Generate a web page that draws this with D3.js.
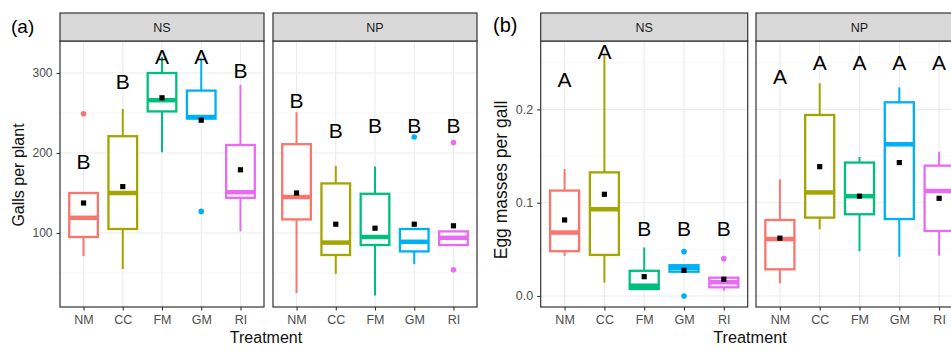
<!DOCTYPE html>
<html>
<head>
<meta charset="utf-8">
<script src="https://cdn.jsdelivr.net/npm/d3@7/dist/d3.min.js"></script>
<style>
  html, body { margin: 0; padding: 0; background: #fff; }
  svg { display: block; font-family: "Liberation Sans", Arial, sans-serif; }
</style>
</head>
<body>
<svg id="chart" width="951" height="350"></svg>
<script>
// ---------------- DATA ----------------
const treatments = ["NM", "CC", "FM", "GM", "RI"];
const facets = ["NS", "NP"];
const treatmentColors = ["#F8766D", "#A3A500", "#00BF7D", "#00B0F6", "#E76BF3"];

// Panel (a): Galls per plant. Box stats per treatment: [lower whisker, Q1, median, Q3, upper whisker]
const gallsNSBox = [[71, 95, 119, 150, 150], [55, 105, 150, 221, 255], [201, 252, 266, 300, 320], [243, 243, 245, 278, 318], [102, 144, 151, 210, 285]];
const gallsNSMean = [137.5, 158, 269, 241, 179];
const gallsNSOutliers = [[249], [], [], [127], []];
const gallsNSLetters = ["B", "B", "A", "A", "B"];
const gallsNSLetterY = [190, 289, 321, 321, 303];

const gallsNPBox = [[25, 117, 145, 211, 251], [49, 72.5, 88, 162, 184], [22, 85, 95, 149, 183], [61, 77, 89, 105, 105], [85, 85, 94, 102, 102]];
const gallsNPMean = [150, 111, 106, 111, 109];
const gallsNPOutliers = [[], [], [], [220], [213, 54]];
const gallsNPLetters = ["B", "B", "B", "B", "B"];
const gallsNPLetterY = [266, 228, 235, 235, 235];

const gallsTicks = [100, 200, 300];
const gallsMinor = [50, 150, 250];

// Panel (b): Egg masses per gall
const eggNSBox = [[0.043, 0.048, 0.068, 0.113, 0.136], [0.0143, 0.044, 0.093, 0.1325, 0.258], [0.0065, 0.0075, 0.011, 0.027, 0.052], [0.026, 0.026, 0.030, 0.033, 0.033], [0.0057, 0.0093, 0.0147, 0.0196, 0.0196]];
const eggNSMean = [0.0815, 0.109, 0.0207, 0.0275, 0.018];
const eggNSOutliers = [[], [], [], [0.0475, 0.0], [0.04]];
const eggNSLetters = ["A", "A", "B", "B", "B"];
const eggNSLetterY = [0.2326, 0.2618, 0.0726, 0.0726, 0.0726];

const eggNPBox = [[0.0136, 0.0286, 0.061, 0.0815, 0.125], [0.0715, 0.084, 0.111, 0.194, 0.228], [0.048, 0.0876, 0.107, 0.143, 0.149], [0.042, 0.0825, 0.1626, 0.2076, 0.2236], [0.0432, 0.0697, 0.1125, 0.1397, 0.1547]];
const eggNPMean = [0.062, 0.1386, 0.107, 0.143, 0.1047];
const eggNPOutliers = [[], [], [], [], []];
const eggNPLetters = ["A", "A", "A", "A", "A"];
const eggNPLetterY = [0.235, 0.25, 0.25, 0.25, 0.25];

const eggTicks = [0.0, 0.1, 0.2];
const eggMinor = [0.05, 0.15, 0.25];

// ---------------- LAYOUT ----------------
const svg = d3.select("#chart");
const stripTop = 13, panelTop = 41, panelBottom = 307;

const panels = [
  {
    tag: "(a)", tagX: 11, tagY: 32.5, tagSize: 19,
    yTitle: "Galls per plant", yTitleX: 23.5, yTitleY: 175, yTitleSize: 16,
    xTitleX: 266, xTitleY: 343, xTitleSize: 16,
    yDomain: [7.5, 340], ticks: gallsTicks, minor: gallsMinor, tickFmt: d3.format("d"), tickSize: 12,
    facetX: [[60, 264], [273, 477]],
    data: [
      { box: gallsNSBox, mean: gallsNSMean, out: gallsNSOutliers, letters: gallsNSLetters, letterY: gallsNSLetterY },
      { box: gallsNPBox, mean: gallsNPMean, out: gallsNPOutliers, letters: gallsNPLetters, letterY: gallsNPLetterY }
    ]
  },
  {
    tag: "(b)", tagX: 493, tagY: 32, tagSize: 20,
    yTitle: "Egg masses per gall", yTitleX: 507, yTitleY: 180, yTitleSize: 17.5,
    xTitleX: 750, xTitleY: 343, xTitleSize: 16.3,
    yDomain: [-0.0118, 0.2733], ticks: eggTicks, minor: eggMinor, tickFmt: d3.format(".1f"), tickSize: 12.5,
    facetX: [[540.7, 747.7], [756, 963]],
    data: [
      { box: eggNSBox, mean: eggNSMean, out: eggNSOutliers, letters: eggNSLetters, letterY: eggNSLetterY },
      { box: eggNPBox, mean: eggNPMean, out: eggNPOutliers, letters: eggNPLetters, letterY: eggNPLetterY }
    ]
  }
];

const color = d3.scaleOrdinal().domain(treatments).range(treatmentColors);

panels.forEach(p => {
  const y = d3.scaleLinear().domain(p.yDomain).range([panelBottom, panelTop]);

  svg.append("text").attr("x", p.tagX).attr("y", p.tagY)
    .attr("font-size", p.tagSize).attr("fill", "#000").text(p.tag);

  svg.append("text")
    .attr("transform", `translate(${p.yTitleX},${p.yTitleY}) rotate(-90)`)
    .attr("text-anchor", "middle").attr("font-size", p.yTitleSize).attr("fill", "#111")
    .text(p.yTitle);

  svg.append("text").attr("x", p.xTitleX).attr("y", p.xTitleY)
    .attr("text-anchor", "middle").attr("font-size", p.xTitleSize).attr("fill", "#111")
    .text("Treatment");

  p.facetX.forEach((fx, fi) => {
    const [x0, x1] = fx;
    const d = p.data[fi];
    const x = d3.scalePoint().domain(treatments).range([x0, x1]).padding(0.6);
    const bw = x.step() * 0.73;
    const g = svg.append("g");

    g.append("rect").attr("x", x0).attr("y", panelTop).attr("width", x1 - x0).attr("height", panelBottom - panelTop)
      .attr("fill", "#fff");

    g.selectAll(".minor").data(p.minor).join("line")
      .attr("x1", x0).attr("x2", x1).attr("y1", v => y(v)).attr("y2", v => y(v))
      .attr("stroke", "#F2F2F2").attr("stroke-width", 0.6);
    g.selectAll(".majorY").data(p.ticks).join("line")
      .attr("x1", x0).attr("x2", x1).attr("y1", v => y(v)).attr("y2", v => y(v))
      .attr("stroke", "#EBEBEB").attr("stroke-width", 1.1);
    g.selectAll(".majorX").data(treatments).join("line")
      .attr("x1", t => x(t)).attr("x2", t => x(t)).attr("y1", panelTop).attr("y2", panelBottom)
      .attr("stroke", "#EBEBEB").attr("stroke-width", 1.1);

    treatments.forEach((t, i) => {
      const [lo, q1, med, q3, hi] = d.box[i];
      const cx = x(t);
      const c = color(t);
      if (hi > q3) g.append("line").attr("x1", cx).attr("x2", cx).attr("y1", y(q3)).attr("y2", y(hi))
        .attr("stroke", c).attr("stroke-width", 2);
      if (lo < q1) g.append("line").attr("x1", cx).attr("x2", cx).attr("y1", y(q1)).attr("y2", y(lo))
        .attr("stroke", c).attr("stroke-width", 2);
      g.append("rect").attr("x", cx - bw / 2).attr("width", bw)
        .attr("y", y(q3)).attr("height", Math.max(0.5, y(q1) - y(q3)))
        .attr("fill", "#fff").attr("stroke", c).attr("stroke-width", 2.3);
      g.append("line").attr("x1", cx - bw / 2).attr("x2", cx + bw / 2).attr("y1", y(med)).attr("y2", y(med))
        .attr("stroke", c).attr("stroke-width", 4.5);
      d.out[i].forEach(o => {
        g.append("circle").attr("cx", cx).attr("cy", y(o)).attr("r", 2.8).attr("fill", c);
      });
      g.append("rect").attr("x", cx - 2.6).attr("y", y(d.mean[i]) - 2.6).attr("width", 5.2).attr("height", 5.2)
        .attr("fill", "#000");
      g.append("text").attr("x", cx).attr("y", y(d.letterY[i]))
        .attr("dy", "0.36em").attr("text-anchor", "middle").attr("font-size", 21).attr("fill", "#000")
        .text(d.letters[i]);
    });

    g.append("rect").attr("x", x0).attr("y", panelTop).attr("width", x1 - x0).attr("height", panelBottom - panelTop)
      .attr("fill", "none").attr("stroke", "#333").attr("stroke-width", 1.2);

    g.append("rect").attr("x", x0).attr("y", stripTop).attr("width", x1 - x0).attr("height", panelTop - stripTop)
      .attr("fill", "#D9D9D9").attr("stroke", "#333").attr("stroke-width", 1.2);
    g.append("text").attr("x", (x0 + x1) / 2).attr("y", (stripTop + panelTop) / 2).attr("dy", "0.36em")
      .attr("text-anchor", "middle").attr("font-size", 12.5).attr("fill", "#1A1A1A").text(facets[fi]);

    const xAxis = svg.append("g").attr("transform", `translate(0,${panelBottom})`)
      .call(d3.axisBottom(x).tickSize(3.5).tickPadding(5));
    xAxis.select(".domain").remove();
    xAxis.selectAll(".tick line").attr("stroke", "#333").attr("stroke-width", 1.1);
    xAxis.selectAll(".tick text").attr("font-size", 12.5).attr("fill", "#4D4D4D")
      .attr("font-family", "Liberation Sans, Arial, sans-serif");

    if (fi === 0) {
      const yAxis = svg.append("g").attr("transform", `translate(${x0},0)`)
        .call(d3.axisLeft(y).tickValues(p.ticks).tickFormat(p.tickFmt).tickSize(3.5).tickPadding(4));
      yAxis.select(".domain").remove();
      yAxis.selectAll(".tick line").attr("stroke", "#333").attr("stroke-width", 1.1);
      yAxis.selectAll(".tick text").attr("font-size", p.tickSize).attr("fill", "#4D4D4D")
        .attr("font-family", "Liberation Sans, Arial, sans-serif");
    }
  });
});
</script>
</body>
</html>
